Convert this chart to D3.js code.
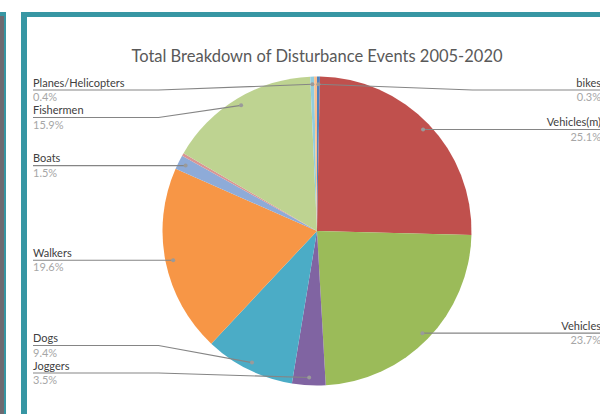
<!DOCTYPE html>
<html>
<head>
<meta charset="utf-8">
<script src="https://cdn.jsdelivr.net/npm/d3@7"></script>
<style>
    body { margin: 0; background: #fff; }
    svg { display: block; font-family: Lato, "Open Sans", sans-serif; }
</style>
</head>
<body>
<svg id="chart"></svg>
<script>
// slices in the order Excel draws them, clockwise from 12 o'clock
const categories = ["bikes", "Vehicles(m)", "Vehicles", "Joggers", "Dogs", "Walkers", "Boats", "", "Fishermen", "", "Planes/Helicopters", ""];
const percents = [0.3, 25.1, 23.7, 3.5, 9.4, 19.6, 1.5, 0.3, 15.9, 0, 0.4, 0.3];
const sliceColors = ["#4F81BD", "#C0504D", "#9BBB59", "#8064A2", "#4BACC6", "#F79646",
    "#8EABD8", "#D99694", "#BED391", "#B3A2C7", "#93CDDD", "#FAC090"];
const title = "Total Breakdown of Disturbance Events 2005-2020";

const width = 600;
const height = 414;
const teal = "#3796a3";

const svg = d3.select("#chart")
    .attr("width", width)
    .attr("height", height);

// window frame bits
svg.append("rect").attr("x", 0).attr("y", 12).attr("width", 6).attr("height", height - 12).attr("fill", teal);
svg.append("rect").attr("x", 0).attr("y", 16).attr("width", 4).attr("height", height - 16).attr("fill", "#6e6a70");
svg.append("rect").attr("x", 21).attr("y", 12).attr("width", width - 21).attr("height", height - 12).attr("fill", teal);
svg.append("rect").attr("x", 27).attr("y", 17).attr("width", width - 27).attr("height", height - 17).attr("fill", "#fff");

svg.append("text")
    .attr("x", 317)
    .attr("y", 62)
    .attr("text-anchor", "middle")
    .attr("font-size", "16.5px")
    .attr("fill", "#595959")
    .text(title);

const cx = 317;
const cy = 231;
const radius = 154.5;

const data = categories.map((c, i) => ({name: c, value: percents[i], color: sliceColors[i]}));

const pie = d3.pie().sort(null).value(d => d.value);
const arcs = pie(data);
const arc = d3.arc().innerRadius(0).outerRadius(radius);
const dotArc = d3.arc().innerRadius(radius * 0.95).outerRadius(radius * 0.95);

const g = svg.append("g").attr("transform", `translate(${cx},${cy})`);

g.selectAll("path.slice")
    .data(arcs)
    .enter().append("path")
    .attr("class", "slice")
    .attr("d", arc)
    .attr("fill", d => d.data.color);

// label layout, Excel style: labels stacked on each side, pushed apart when they collide
const labelled = arcs.filter(d => d.data.name !== "").map(d =>
{
    const mid = (d.startAngle + d.endAngle) / 2;
    const p = dotArc.centroid(d);
    return {d: d, side: mid < Math.PI ? "right" : "left", dx: p[0] + cx, dy: p[1] + cy, ly: p[1] + cy};
});

const topY = 90;
const bottomY = 373;
const gap = 27.5;

["left", "right"].forEach(side =>
{
    const list = labelled.filter(l => l.side === side).sort((a, b) => a.ly - b.ly);
    list.forEach(l => { l.ly = Math.max(topY, Math.min(bottomY, l.ly)); });
    for (let i = 1; i < list.length; i++)
    {
        list[i].ly = Math.max(list[i].ly, list[i - 1].ly + gap);
    }
    list[list.length - 1].ly = Math.min(list[list.length - 1].ly, bottomY);
    for (let i = list.length - 2; i >= 0; i--)
    {
        list[i].ly = Math.min(list[i].ly, list[i + 1].ly - gap);
    }
});

const leftX = 33;
const rightX = 601;
const leftElbow = cx - radius - 4;
const rightElbow = cx + radius + 1;

const lineGen = d3.line();

svg.selectAll("path.leader")
    .data(labelled)
    .enter().append("path")
    .attr("class", "leader")
    .attr("fill", "none")
    .attr("stroke", "#858585")
    .attr("stroke-width", 1.1)
    .attr("d", l =>
    {
        const startX = l.side === "left" ? leftX : rightX + 2;
        if (Math.abs(l.ly - l.dy) < 1.5)
        {
            return lineGen([[startX, l.ly], [l.dx, l.ly]]);
        }
        const elbow = l.side === "left" ? leftElbow : rightElbow;
        return lineGen([[startX, l.ly], [elbow, l.ly], [l.dx, l.dy]]);
    });

svg.selectAll("circle.dot")
    .data(labelled)
    .enter().append("circle")
    .attr("class", "dot")
    .attr("cx", l => l.dx)
    .attr("cy", l => Math.abs(l.ly - l.dy) < 1.5 ? l.ly : l.dy)
    .attr("r", 2)
    .attr("fill", "#9a9a9a");

svg.selectAll("text.name")
    .data(labelled)
    .enter().append("text")
    .attr("class", "name")
    .attr("x", l => l.side === "left" ? leftX : rightX)
    .attr("y", l => l.ly - 3.5)
    .attr("text-anchor", l => l.side === "left" ? "start" : "end")
    .attr("font-size", "11px")
    .attr("fill", "#404040")
    .text(l => l.d.data.name);

svg.selectAll("text.pct")
    .data(labelled)
    .enter().append("text")
    .attr("class", "pct")
    .attr("x", l => l.side === "left" ? leftX : rightX)
    .attr("y", l => l.ly + 11)
    .attr("text-anchor", l => l.side === "left" ? "start" : "end")
    .attr("font-size", "11px")
    .attr("fill", "#a6a6a6")
    .text(l => l.d.data.value.toFixed(1) + "%");
</script>
</body>
</html>
